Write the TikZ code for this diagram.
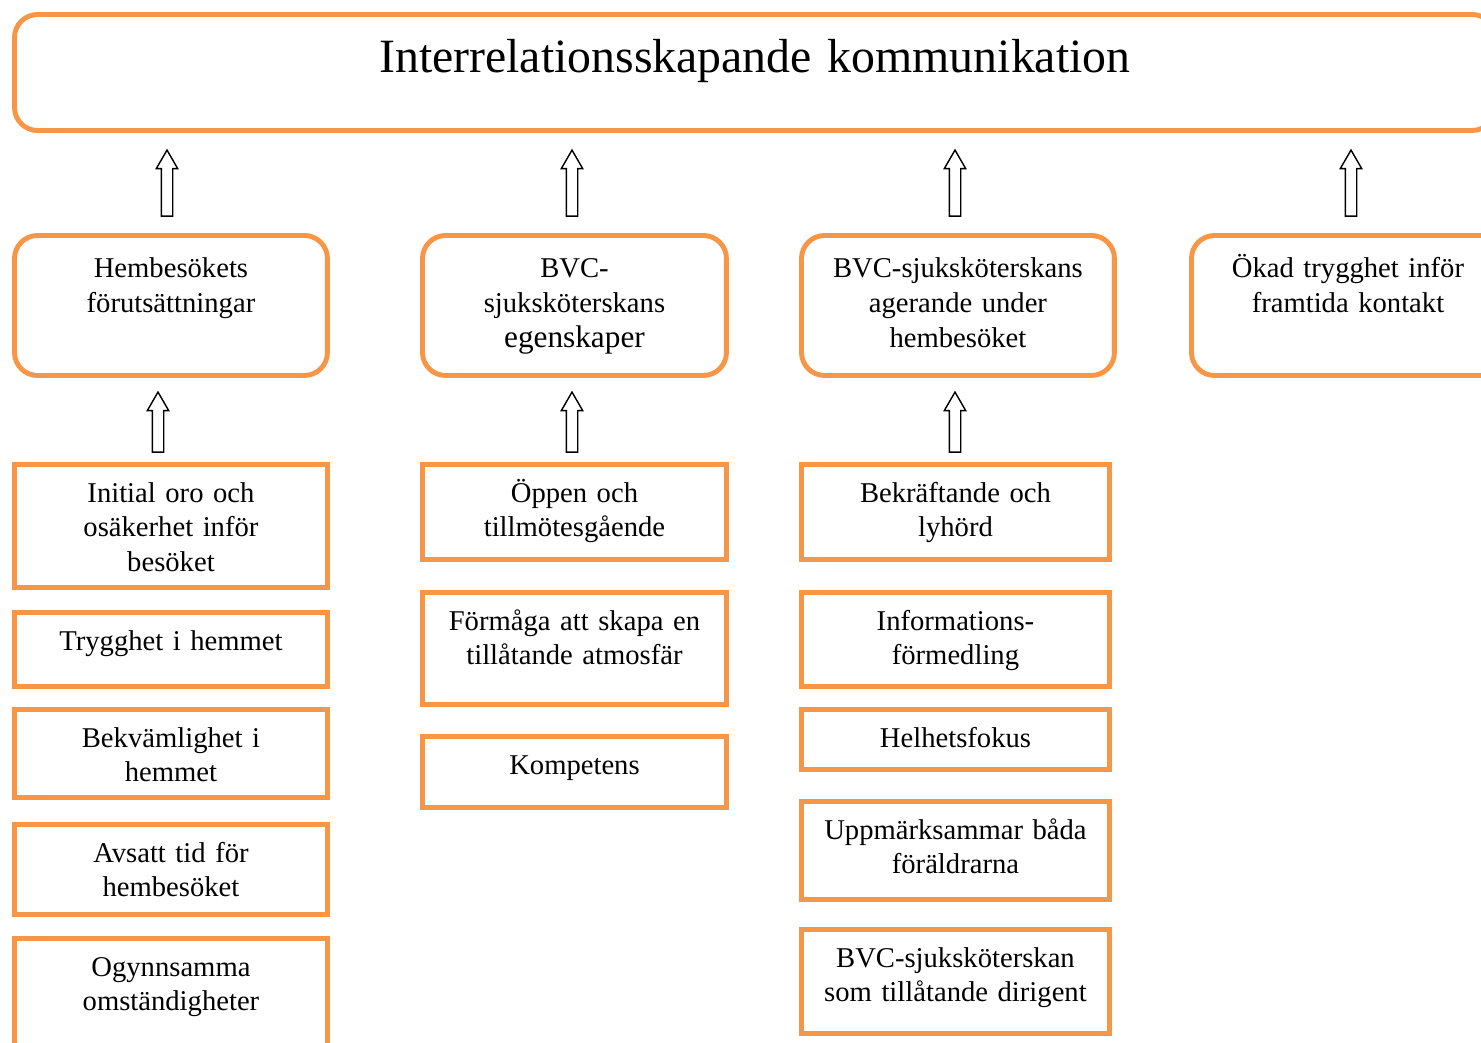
\documentclass[tikz,border=0pt]{standalone}
\usepackage{fontspec}
\setmainfont{Liberation Serif}
\usetikzlibrary{shapes.arrows}
\definecolor{boxorange}{RGB}{247,150,70}

\begin{document}
\begin{tikzpicture}[x=0.02cm, y=-0.02cm,
        box/.style={draw=boxorange, line width=2.8pt, inner sep=0pt, outer sep=0pt,
            anchor=north west, align=center, text height=0.75cm,
            font=\fontsize{16.3}{19.8}\selectfont},
        roundbox/.style={box, rounded corners=0.46cm, text width=6.26cm,
            text height=0.84cm, text depth=1.96cm},
        colone/.style={box, text width=6.26cm, text depth=#1},
        coltwo/.style={box, text width=6.08cm, text depth=#1},
        colthree/.style={box, text width=6.16cm, text depth=#1},
        uparrow/.style={single arrow, draw, line width=0.8pt, inner sep=0.1cm,
            shape border rotate=90, minimum width=0.4cm, minimum height=#1,
            single arrow head extend=0.1cm, single arrow tip angle=60}]
        \useasboundingbox (0,0) rectangle (1481,1042);

        % top
        \node[box, rounded corners=0.46cm, text width=29.62cm, text height=1.17cm, text depth=1.15cm,
            font=\fontsize{27.2}{30}\selectfont] (title) at (14.5, 14.5) {Interrelationsskapande kommunikation};

        \node[uparrow=1.32cm] (up1) at (167, 188) {};
        \node[uparrow=1.32cm] (up2) at (572, 188) {};
        \node[uparrow=1.32cm] (up3) at (955, 188) {};
        \node[uparrow=1.32cm] (up4) at (1351, 188) {};

        % categories
        \node[roundbox] (hemb) at (14.5, 235.5) {Hembesökets\\förutsättningar};
        \node[roundbox, text width=6.08cm] (egen) at (422.5, 235.5)
            {BVC-\\sjuksköterskans\\{\fontsize{17.8}{19.8}\selectfont egenskaper}};
        \node[roundbox] (ager) at (801.5, 235.5) {BVC-sjuksköterskans\\agerande under\\hembesöket};
        \node[roundbox] (okad) at (1191.5, 235.5) {Ökad trygghet inför\\framtida kontakt};

        \node[uparrow=1.2cm] (low1) at (158, 427) {};
        \node[uparrow=1.2cm] (low2) at (572, 427) {};
        \node[uparrow=1.2cm] (low3) at (955, 427) {};

        % subcategories
        \node[colone=1.71cm] (oro) at (14.5, 464.5) {Initial oro och\\osäkerhet inför\\besöket};
        \node[colone=0.73cm] (trygg) at (14.5, 612.5) {Trygghet i hemmet};
        \node[colone=1.01cm] (bekv) at (14.5, 709.5) {Bekvämlighet i\\hemmet};
        \node[colone=1.05cm] (tid) at (14.5, 824.5) {Avsatt tid för\\hembesöket};
        \node[colone=1.65cm] (ogynn) at (14.5, 938.5) {Ogynnsamma\\omständigheter};

        \node[coltwo=1.15cm] (oppen) at (422.5, 464.5) {Öppen och\\tillmötesgående};
        \node[coltwo=1.49cm] (formaga) at (422.5, 592.5) {Förmåga att skapa en\\tillåtande atmosfär};
        \node[coltwo=0.67cm] (komp) at (422.5, 736.5) {Kompetens};

        \node[colthree=1.15cm] (bekr) at (801.5, 464.5) {Bekräftande och\\lyhörd};
        \node[colthree=1.13cm] (info) at (801.5, 592.5) {Informations-\\förmedling};
        \node[colthree=0.45cm] (helhet) at (801.5, 709.5) {Helhetsfokus};
        \node[colthree=1.21cm] (uppm) at (801.5, 801.5) {Uppmärksammar båda\\föräldrarna};
        \node[colthree=1.33cm] (dirig) at (801.5, 929.5) {BVC-sjuksköterskan\\som tillåtande dirigent};

    \end{tikzpicture}
\end{document}
